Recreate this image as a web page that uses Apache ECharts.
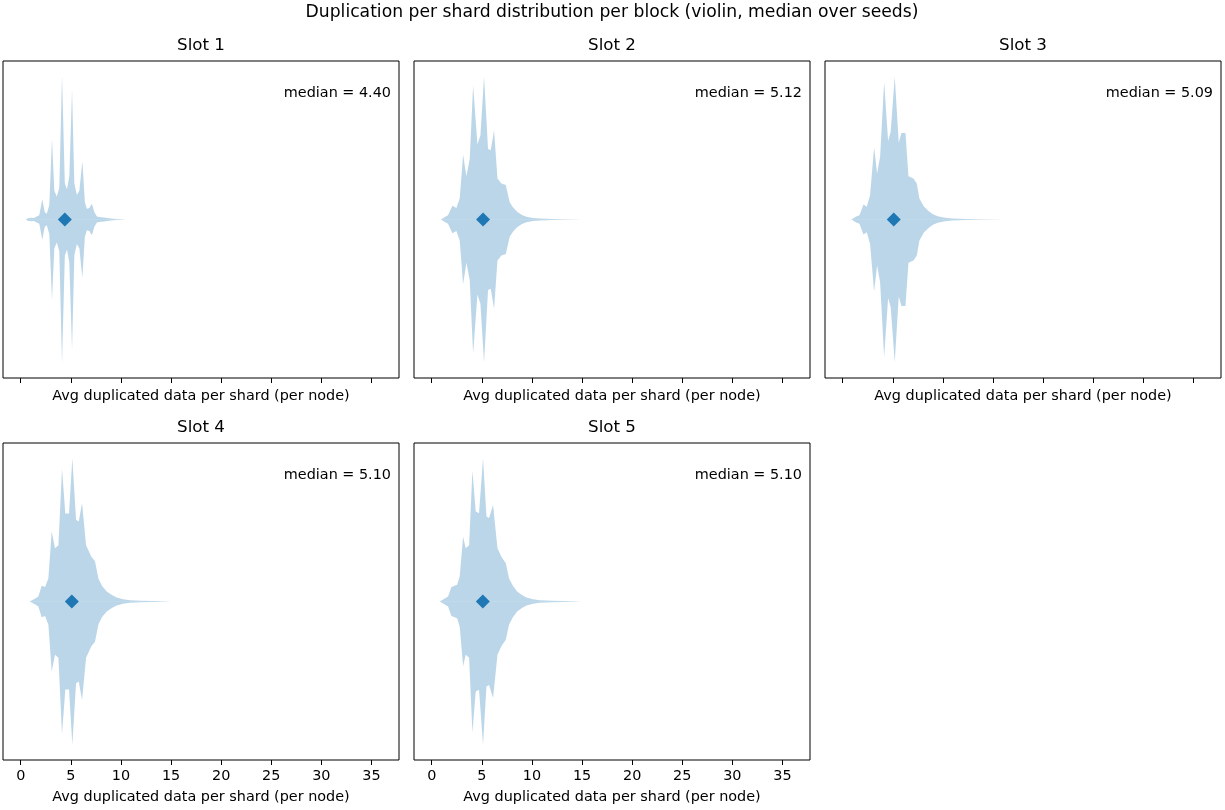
<!DOCTYPE html>
<html>
<head>
<meta charset="utf-8">
<script src="https://cdn.jsdelivr.net/npm/echarts@6/dist/echarts.min.js"></script>
<style>
  html, body { margin: 0; padding: 0; background: #fff; }
  #chart { width: 1225px; height: 810px; }
</style>
</head>
<body>
<div id="chart"></div>
<script>
// slot names and medians
var slotNames = ['Slot 1', 'Slot 2', 'Slot 3', 'Slot 4', 'Slot 5'];
var medians = [4.40, 5.12, 5.09, 5.10, 5.10];
var tickValues = [0, 5, 10, 15, 20, 25, 30, 35];

// violin half-widths [value, scaled density] (max density = 1)
var slot1Density = [[0.5,0],[0.7,0.008],[1.0,0.012],[1.3,0.01],[1.6,0.02],[1.85,0.03],[2.15,0.14],[2.4,0.05],[2.6,0.04],[2.85,0.1],[3.12,0.56],[3.35,0.2],[3.6,0.16],[3.85,0.22],[4.12,1.0],[4.4,0.25],[4.62,0.21],[4.85,0.3],[5.12,0.9],[5.35,0.25],[5.6,0.17],[5.85,0.2],[6.15,0.405],[6.4,0.12],[6.6,0.075],[6.85,0.08],[7.1,0.11],[7.35,0.05],[7.6,0.02],[8.0,0.015],[8.3,0.014],[8.8,0.008],[9.5,0.003],[10.5,0.0005],[11,0]];
var slot2Density = [[0.9,0],[1.07,0.01],[1.4,0.02],[1.63,0.03],[2.06,0.095],[2.46,0.08],[2.79,0.146],[3.13,0.45],[3.46,0.30],[3.79,0.42],[4.13,0.93],[4.56,0.52],[4.86,0.585],[5.22,0.99],[5.62,0.49],[5.89,0.48],[6.22,0.62],[6.56,0.285],[6.95,0.25],[7.39,0.24],[7.78,0.12],[8.1,0.085],[8.52,0.053],[9.0,0.032],[9.45,0.019],[10.1,0.011],[10.78,0.007],[12,0.004],[13.1,0.0025],[15,0.0006],[17,0.0003],[20,0.0001],[24,0.00005],[28,0]];
var slot3Density = [[0.85,0],[1.0,0.01],[1.35,0.02],[1.67,0.03],[2.07,0.104],[2.40,0.088],[2.73,0.17],[3.13,0.50],[3.43,0.32],[3.73,0.435],[4.13,0.955],[4.53,0.545],[4.79,0.61],[5.19,0.99],[5.59,0.535],[5.86,0.6],[6.26,0.6],[6.56,0.30],[7.06,0.285],[7.39,0.25],[7.65,0.146],[8.1,0.09],[8.59,0.058],[9.0,0.036],[9.48,0.023],[10.2,0.012],[10.98,0.007],[12.3,0.004],[13.6,0.0025],[16,0.0006],[20,0.0002],[25.6,0.0001],[27,0]];
var slot4Density = [[0.9,0],[1.09,0.01],[1.45,0.02],[1.76,0.035],[2.09,0.109],[2.43,0.1],[2.76,0.162],[3.09,0.486],[3.42,0.37],[3.76,0.39],[4.12,0.92],[4.45,0.61],[4.82,0.61],[5.15,0.995],[5.52,0.567],[5.79,0.556],[6.12,0.683],[6.52,0.39],[7.05,0.31],[7.41,0.28],[7.75,0.16],[8.1,0.11],[8.58,0.07],[9.1,0.045],[9.58,0.028],[10.2,0.015],[10.9,0.009],[12,0.005],[13.2,0.003],[15,0.0007],[18,0.0002],[22,0.0001],[26,0]];
var slot5Density = [[0.8,0],[0.97,0.01],[1.3,0.02],[1.63,0.035],[1.96,0.1],[2.53,0.116],[2.79,0.174],[3.13,0.45],[3.39,0.37],[3.73,0.39],[4.06,0.91],[4.39,0.625],[4.72,0.613],[5.12,0.995],[5.46,0.59],[5.72,0.58],[6.12,0.67],[6.56,0.37],[6.95,0.31],[7.39,0.266],[7.72,0.16],[8.1,0.11],[8.52,0.07],[9.0,0.045],[9.45,0.028],[10.1,0.015],[10.78,0.009],[12,0.005],[13.1,0.003],[15,0.0007],[18,0.0002],[22,0]];

var densities = [slot1Density, slot2Density, slot3Density, slot4Density, slot5Density];

var chart = echarts.init(document.getElementById('chart'));
var font = 'DejaVu Sans';
var violinColor = 'rgba(31,119,180,0.3)';
var markerColor = '#1f77b4';

// panel boxes (px)
var boxes = [
  {left: 3, top: 61}, {left: 414, top: 61}, {left: 825, top: 61},
  {left: 3, top: 443}, {left: 414, top: 443}
];
var boxW = 396, boxH = 317;

var grids = [], xAxes = [], yAxes = [], series = [], graphics = [];

graphics.push({
  type: 'text', x: 612, y: 13,
  style: {text: 'Duplication per shard distribution per block (violin, median over seeds)',
    font: '17.2px ' + font, fill: '#000', align: 'center', verticalAlign: 'middle',
    textAlign: 'center', textVerticalAlign: 'middle'}
});

boxes.forEach(function (b, i) {
  var bottomRow = i >= 3;
  grids.push({
    left: b.left, top: b.top, width: boxW, height: boxH,
    show: true, borderColor: '#000', borderWidth: 1, backgroundColor: '#fff'
  });
  xAxes.push({
    type: 'value', gridIndex: i, min: -1.77, max: 37.75,
    splitLine: {show: false},
    axisLine: {show: false, onZero: false},
    axisTick: {show: true, inside: false, length: 5, customValues: tickValues,
      lineStyle: {color: '#000', width: 1}},
    axisLabel: {show: bottomRow, customValues: tickValues, margin: 9,
      color: '#000', fontSize: 14.4, fontFamily: font},
    name: 'Avg duplicated data per shard (per node)',
    nameLocation: 'middle', nameGap: bottomRow ? 30 : 11,
    nameTextStyle: {color: '#000', fontSize: 14.4, fontFamily: font}
  });
  yAxes.push({
    type: 'value', gridIndex: i, min: -1.1, max: 1.1,
    show: false, splitLine: {show: false}
  });
  var d = densities[i];
  series.push({
    type: 'line', xAxisIndex: i, yAxisIndex: i, data: d,
    showSymbol: false, symbol: 'none', lineStyle: {width: 0},
    areaStyle: {color: violinColor, opacity: 1}, silent: true, z: 2
  });
  series.push({
    type: 'line', xAxisIndex: i, yAxisIndex: i,
    data: d.map(function (p) { return [p[0], -p[1]]; }),
    showSymbol: false, symbol: 'none', lineStyle: {width: 0},
    areaStyle: {color: violinColor, opacity: 1}, silent: true, z: 2
  });
  series.push({
    type: 'scatter', xAxisIndex: i, yAxisIndex: i,
    data: [[medians[i], 0]], symbol: 'diamond', symbolSize: 14,
    itemStyle: {color: markerColor, opacity: 1}, z: 5
  });
  graphics.push({
    type: 'text', x: b.left + boxW / 2, y: b.top - 15,
    style: {text: slotNames[i], font: '16.7px ' + font, fill: '#000',
      align: 'center', verticalAlign: 'middle', textAlign: 'center', textVerticalAlign: 'middle'}
  });
  graphics.push({
    type: 'text', x: b.left + boxW - 8, y: b.top + 32,
    style: {text: 'median = ' + medians[i].toFixed(2), font: '14.4px ' + font, fill: '#000',
      align: 'right', verticalAlign: 'middle', textAlign: 'right', textVerticalAlign: 'middle'},
    z: 10
  });
});

chart.setOption({
  animation: false,
  backgroundColor: '#fff',
  grid: grids,
  xAxis: xAxes,
  yAxis: yAxes,
  series: series,
  graphic: graphics
});
</script>
</body>
</html>
